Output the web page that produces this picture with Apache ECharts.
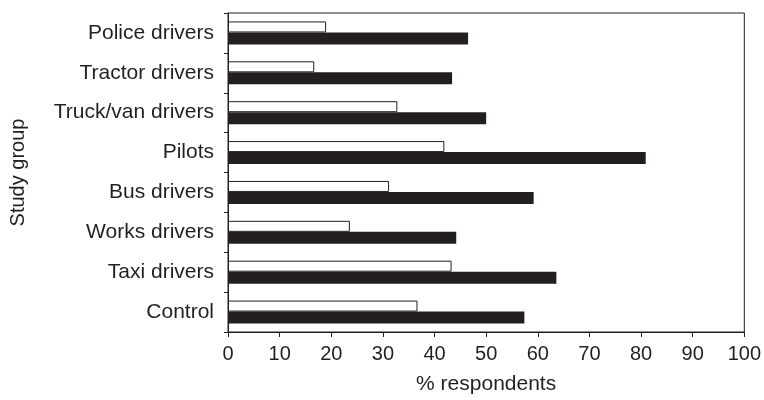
<!DOCTYPE html>
<html>
<head>
<meta charset="utf-8">
<script src="https://cdn.jsdelivr.net/npm/echarts@6/dist/echarts.min.js"></script>
<style>
  html, body { margin: 0; padding: 0; background: #fff; }
  #chart { width: 764px; height: 400px; }
</style>
</head>
<body>
<div id="chart"></div>
<script>
// categories, bottom to top
var groups = ['Control', 'Taxi drivers', 'Works drivers', 'Bus drivers', 'Pilots',
    'Truck/van drivers', 'Tractor drivers', 'Police drivers'];
var whiteValues = [36.7, 43.3, 23.6, 31.2, 41.9, 32.8, 16.7, 19.0];
var blackValues = [57.4, 63.6, 44.2, 59.2, 80.9, 50.0, 43.4, 46.5];
var xTicks = [0, 100, 10];

var ink = '#231f20';
var font = 'Liberation Sans, Arial, sans-serif';

var myChart = echarts.init(document.getElementById('chart'));
var option = {
    animation: false,
    grid: {
        left: 228, right: 19, top: 13, bottom: 64,
        show: true, borderColor: ink, borderWidth: 1
    },
    xAxis: {
        type: 'value',
        min: xTicks[0], max: xTicks[1], interval: xTicks[2],
        name: '% respondents',
        nameLocation: 'middle',
        nameGap: 42,
        nameTextStyle: { color: ink, fontSize: 21, fontFamily: font },
        axisLine: { show: true, lineStyle: { color: ink, width: 1 } },
        axisTick: { show: true, inside: false, length: 5, lineStyle: { color: ink } },
        axisLabel: { color: ink, fontSize: 20, fontFamily: font, margin: 12 },
        splitLine: { show: false }
    },
    yAxis: {
        type: 'category',
        data: groups,
        name: 'Study group',
        nameLocation: 'middle',
        nameRotate: 90,
        nameGap: 200,
        nameTextStyle: { color: ink, fontSize: 20, fontFamily: font },
        axisLine: { show: true, lineStyle: { color: ink, width: 1 } },
        axisTick: { show: true, inside: false, length: 4, lineStyle: { color: ink } },
        axisLabel: { color: ink, fontSize: 21, fontFamily: font, margin: 14 },
        splitLine: { show: false }
    },
    series: [
        {
            type: 'bar',
            data: whiteValues,
            barWidth: 11,
            barGap: '0%',
            itemStyle: { color: '#fff', borderColor: ink, borderWidth: 1 }
        },
        {
            type: 'bar',
            data: blackValues,
            barWidth: 12,
            barGap: '0%',
            itemStyle: { color: ink }
        }
    ]
};
myChart.setOption(option);
</script>
</body>
</html>
